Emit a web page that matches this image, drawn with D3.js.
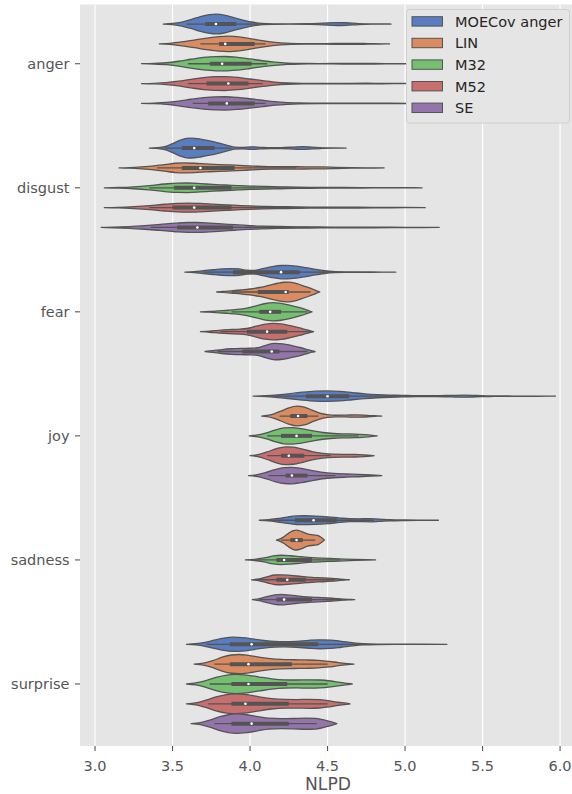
<!DOCTYPE html>
<html>
<head>
<meta charset="utf-8">
<script src="https://cdn.jsdelivr.net/npm/d3@7"></script>
<style>
  html, body { margin: 0; padding: 0; background: #ffffff; }
  svg { display: block; font-family: "DejaVu Sans", sans-serif; }
</style>
</head>
<body>
<svg id="chart" width="572" height="794"></svg>
<script>
// Emotion categories (y axis) and models (hue)
const categories = ["anger", "disgust", "fear", "joy", "sadness", "surprise"];
const models = ["MOECov anger", "LIN", "M32", "M52", "SE"];
const palette = ["#4878d0", "#ee854a", "#6acc64", "#d65f5f", "#956cb4"];
const xTicks = [3.0, 3.5, 4.0, 4.5, 5.0, 5.5, 6.0];
const xLabel = "NLPD";

// Density profiles per model: [NLPD, relative half-width]
const angerDensity = [
  [[3.44,0],[3.50,0.06],[3.56,0.2],[3.62,0.45],[3.68,0.75],[3.74,0.95],[3.78,1.0],[3.84,0.88],[3.90,0.62],[3.96,0.38],[4.02,0.18],[4.08,0.06],[4.15,0.02],[4.25,0.015],[4.38,0.03],[4.47,0.09],[4.56,0.15],[4.62,0.13],[4.70,0.05],[4.78,0.015],[4.91,0]],
  [[3.415,0],[3.48,0.06],[3.56,0.2],[3.64,0.38],[3.72,0.58],[3.80,0.74],[3.86,0.78],[3.94,0.68],[4.02,0.48],[4.10,0.28],[4.18,0.13],[4.26,0.06],[4.35,0.03],[4.48,0.03],[4.60,0.05],[4.68,0.06],[4.76,0.035],[4.84,0.01],[4.90,0]],
  [[3.30,0],[3.38,0.03],[3.46,0.1],[3.54,0.25],[3.62,0.45],[3.70,0.63],[3.78,0.72],[3.84,0.73],[3.92,0.64],[4.00,0.48],[4.08,0.3],[4.16,0.16],[4.24,0.07],[4.32,0.03],[4.45,0.02],[4.60,0.03],[4.70,0.04],[4.80,0.03],[4.95,0.01],[5.15,0]],
  [[3.30,0],[3.38,0.03],[3.46,0.1],[3.54,0.24],[3.62,0.43],[3.70,0.6],[3.78,0.69],[3.84,0.7],[3.92,0.62],[4.00,0.46],[4.08,0.29],[4.16,0.15],[4.24,0.07],[4.34,0.03],[4.50,0.02],[4.65,0.03],[4.75,0.035],[4.85,0.02],[5.00,0.005],[5.15,0]],
  [[3.30,0],[3.38,0.03],[3.46,0.1],[3.54,0.24],[3.62,0.42],[3.70,0.58],[3.78,0.66],[3.84,0.67],[3.92,0.6],[4.00,0.47],[4.08,0.32],[4.16,0.18],[4.24,0.09],[4.32,0.04],[4.45,0.02],[4.60,0.02],[4.75,0.025],[4.90,0.015],[5.15,0]]
];
const disgustDensity = [
  [[3.35,0],[3.40,0.04],[3.45,0.15],[3.50,0.45],[3.55,0.8],[3.59,0.98],[3.62,1.0],[3.68,0.9],[3.74,0.72],[3.80,0.5],[3.86,0.25],[3.90,0.1],[3.95,0.07],[4.01,0.13],[4.07,0.08],[4.13,0.04],[4.20,0.05],[4.28,0.1],[4.34,0.14],[4.40,0.09],[4.47,0.03],[4.55,0.01],[4.62,0]],
  [[3.155,0],[3.22,0.03],[3.30,0.1],[3.38,0.2],[3.45,0.33],[3.52,0.47],[3.57,0.5],[3.64,0.47],[3.72,0.4],[3.80,0.34],[3.88,0.3],[3.96,0.24],[4.04,0.17],[4.12,0.13],[4.20,0.12],[4.30,0.12],[4.40,0.1],[4.47,0.1],[4.55,0.06],[4.65,0.03],[4.75,0.015],[4.865,0]],
  [[3.06,0],[3.15,0.03],[3.25,0.1],[3.35,0.22],[3.45,0.38],[3.53,0.47],[3.60,0.48],[3.68,0.42],[3.76,0.34],[3.84,0.28],[3.92,0.22],[4.00,0.17],[4.10,0.13],[4.20,0.1],[4.30,0.06],[4.45,0.04],[4.60,0.03],[4.80,0.02],[5.00,0.01],[5.11,0]],
  [[3.06,0],[3.15,0.03],[3.25,0.1],[3.35,0.2],[3.45,0.34],[3.53,0.43],[3.60,0.46],[3.68,0.42],[3.76,0.35],[3.84,0.28],[3.92,0.22],[4.00,0.17],[4.10,0.13],[4.20,0.1],[4.30,0.07],[4.45,0.05],[4.60,0.04],[4.80,0.03],[5.00,0.01],[5.13,0]],
  [[3.04,0],[3.12,0.03],[3.22,0.09],[3.32,0.18],[3.42,0.3],[3.52,0.43],[3.60,0.5],[3.66,0.5],[3.74,0.44],[3.82,0.36],[3.90,0.28],[3.98,0.2],[4.08,0.14],[4.18,0.1],[4.30,0.07],[4.45,0.05],[4.60,0.04],[4.80,0.03],[5.00,0.015],[5.22,0]]
];
const fearDensity = [
  [[3.58,0],[3.64,0.05],[3.70,0.15],[3.76,0.24],[3.82,0.32],[3.88,0.36],[3.93,0.32],[3.98,0.2],[4.02,0.18],[4.08,0.35],[4.14,0.55],[4.20,0.67],[4.24,0.68],[4.30,0.6],[4.36,0.45],[4.42,0.28],[4.48,0.14],[4.55,0.06],[4.62,0.03],[4.72,0.015],[4.85,0.008],[4.94,0]],
  [[3.785,0],[3.83,0.05],[3.88,0.12],[3.94,0.2],[4.00,0.3],[4.06,0.45],[4.12,0.66],[4.18,0.88],[4.22,0.98],[4.25,1.0],[4.29,0.9],[4.33,0.7],[4.37,0.48],[4.41,0.25],[4.43,0.12],[4.45,0]],
  [[3.68,0],[3.74,0.04],[3.80,0.1],[3.86,0.16],[3.92,0.24],[3.98,0.38],[4.04,0.6],[4.10,0.84],[4.15,0.92],[4.20,0.85],[4.26,0.66],[4.32,0.42],[4.36,0.22],[4.38,0.1],[4.40,0]],
  [[3.68,0],[3.74,0.06],[3.80,0.14],[3.86,0.2],[3.92,0.24],[3.98,0.32],[4.04,0.55],[4.10,0.76],[4.15,0.83],[4.20,0.78],[4.26,0.6],[4.32,0.38],[4.36,0.2],[4.39,0.08],[4.41,0]],
  [[3.71,0],[3.76,0.08],[3.82,0.2],[3.88,0.28],[3.94,0.32],[4.00,0.33],[4.05,0.38],[4.10,0.62],[4.16,0.83],[4.21,0.78],[4.27,0.6],[4.33,0.38],[4.37,0.2],[4.40,0.07],[4.42,0]]
];
const joyDensity = [
  [[4.02,0],[4.10,0.05],[4.18,0.14],[4.26,0.26],[4.34,0.4],[4.42,0.5],[4.50,0.53],[4.58,0.48],[4.66,0.36],[4.74,0.24],[4.82,0.16],[4.90,0.11],[4.98,0.08],[5.08,0.05],[5.20,0.05],[5.30,0.08],[5.38,0.1],[5.46,0.07],[5.55,0.03],[5.70,0.015],[5.85,0.008],[5.97,0]],
  [[4.075,0],[4.11,0.06],[4.15,0.2],[4.20,0.5],[4.25,0.82],[4.30,1.0],[4.35,0.9],[4.40,0.6],[4.45,0.3],[4.50,0.14],[4.55,0.08],[4.62,0.09],[4.68,0.12],[4.73,0.1],[4.78,0.05],[4.82,0.02],[4.85,0]],
  [[3.995,0],[4.04,0.08],[4.10,0.28],[4.16,0.58],[4.22,0.8],[4.27,0.83],[4.33,0.72],[4.40,0.52],[4.47,0.34],[4.54,0.24],[4.61,0.2],[4.68,0.18],[4.74,0.12],[4.79,0.05],[4.82,0]],
  [[4.00,0],[4.05,0.1],[4.11,0.38],[4.17,0.72],[4.23,0.9],[4.28,0.86],[4.34,0.66],[4.40,0.42],[4.47,0.24],[4.54,0.16],[4.61,0.14],[4.68,0.13],[4.74,0.08],[4.78,0.03],[4.80,0]],
  [[3.99,0],[4.04,0.08],[4.10,0.3],[4.16,0.6],[4.22,0.8],[4.27,0.83],[4.33,0.72],[4.40,0.5],[4.47,0.32],[4.54,0.22],[4.62,0.16],[4.70,0.12],[4.78,0.06],[4.83,0.02],[4.85,0]]
];
const sadnessDensity = [
  [[4.06,0],[4.12,0.06],[4.18,0.18],[4.24,0.32],[4.30,0.43],[4.35,0.45],[4.42,0.42],[4.50,0.34],[4.58,0.22],[4.64,0.15],[4.70,0.14],[4.77,0.16],[4.83,0.12],[4.90,0.06],[5.00,0.025],[5.10,0.01],[5.215,0]],
  [[4.17,0],[4.19,0.1],[4.22,0.35],[4.25,0.7],[4.28,0.95],[4.30,1.0],[4.33,0.88],[4.37,0.62],[4.41,0.52],[4.44,0.45],[4.46,0.25],[4.48,0]],
  [[3.97,0],[4.03,0.06],[4.09,0.2],[4.15,0.4],[4.20,0.47],[4.26,0.42],[4.33,0.32],[4.40,0.23],[4.47,0.18],[4.54,0.14],[4.61,0.09],[4.68,0.05],[4.75,0.02],[4.81,0]],
  [[4.01,0],[4.06,0.1],[4.11,0.3],[4.16,0.48],[4.20,0.5],[4.26,0.44],[4.33,0.34],[4.40,0.25],[4.47,0.2],[4.53,0.14],[4.58,0.07],[4.62,0.02],[4.64,0]],
  [[4.015,0],[4.06,0.1],[4.11,0.3],[4.16,0.48],[4.20,0.53],[4.26,0.45],[4.33,0.33],[4.40,0.25],[4.47,0.2],[4.54,0.13],[4.60,0.06],[4.65,0.02],[4.675,0]]
];
const surpriseDensity = [
  [[3.59,0],[3.65,0.06],[3.71,0.2],[3.77,0.42],[3.83,0.62],[3.89,0.72],[3.95,0.68],[4.02,0.54],[4.09,0.38],[4.16,0.28],[4.22,0.26],[4.30,0.3],[4.38,0.4],[4.45,0.45],[4.52,0.42],[4.59,0.3],[4.66,0.16],[4.73,0.06],[4.82,0.025],[4.95,0.015],[5.10,0.01],[5.27,0]],
  [[3.64,0],[3.70,0.1],[3.76,0.35],[3.82,0.7],[3.88,0.92],[3.93,0.97],[3.99,0.88],[4.06,0.7],[4.13,0.55],[4.20,0.47],[4.28,0.44],[4.36,0.42],[4.44,0.38],[4.51,0.28],[4.57,0.16],[4.63,0.06],[4.67,0]],
  [[3.59,0],[3.65,0.1],[3.71,0.32],[3.78,0.66],[3.85,0.9],[3.91,0.97],[3.98,0.9],[4.06,0.7],[4.14,0.52],[4.22,0.42],[4.30,0.4],[4.38,0.42],[4.45,0.4],[4.52,0.3],[4.58,0.16],[4.63,0.06],[4.66,0]],
  [[3.59,0],[3.65,0.1],[3.71,0.34],[3.78,0.7],[3.85,0.93],[3.91,1.0],[3.98,0.92],[4.06,0.7],[4.14,0.52],[4.22,0.44],[4.30,0.43],[4.38,0.45],[4.45,0.42],[4.51,0.3],[4.57,0.16],[4.62,0.06],[4.645,0]],
  [[3.62,0],[3.68,0.1],[3.74,0.35],[3.80,0.68],[3.86,0.9],[3.91,0.98],[3.98,0.9],[4.05,0.72],[4.12,0.55],[4.20,0.5],[4.28,0.52],[4.36,0.56],[4.42,0.54],[4.47,0.4],[4.52,0.2],[4.56,0]]
];

// Box summaries per model: [lower whisker, Q1, median, Q3, upper whisker]
const angerBox    = [[3.59,3.71,3.78,3.91,4.10],[3.68,3.80,3.84,4.03,4.10],[3.60,3.74,3.82,4.01,4.11],[3.60,3.72,3.86,3.99,4.08],[3.63,3.73,3.85,4.03,4.10]];
const disgustBox  = [[3.45,3.56,3.64,3.77,3.88],[3.40,3.56,3.68,3.90,4.30],[3.35,3.51,3.64,3.88,4.35],[3.35,3.50,3.64,3.88,4.35],[3.36,3.53,3.66,3.89,4.38]];
const fearBox     = [[3.70,3.89,4.20,4.32,4.60],[3.88,4.05,4.23,4.25,4.39],[3.88,4.06,4.13,4.20,4.37],[3.81,3.98,4.11,4.24,4.39],[3.79,3.95,4.14,4.19,4.37]];
const joyBox      = [[4.10,4.36,4.50,4.64,4.98],[4.19,4.26,4.31,4.37,4.44],[4.11,4.20,4.30,4.40,4.70],[4.11,4.20,4.25,4.35,4.52],[4.12,4.23,4.27,4.37,4.55]];
const sadnessBox  = [[4.12,4.29,4.41,4.56,4.80],[4.20,4.26,4.30,4.34,4.42],[4.04,4.17,4.22,4.40,4.58],[4.05,4.17,4.24,4.36,4.55],[4.06,4.17,4.22,4.40,4.60]];
const surpriseBox = [[3.72,3.87,4.01,4.44,4.73],[3.77,3.87,3.99,4.27,4.50],[3.74,3.88,3.99,4.24,4.50],[3.73,3.88,3.97,4.25,4.50],[3.77,3.88,4.01,4.25,4.43]];

const densityByCategory = {anger: angerDensity, disgust: disgustDensity, fear: fearDensity, joy: joyDensity, sadness: sadnessDensity, surprise: surpriseDensity};
const boxByCategory = {anger: angerBox, disgust: disgustBox, fear: fearBox, joy: joyBox, sadness: sadnessBox, surprise: surpriseBox};

// Layout
const plot = {left: 80, right: 572, top: 4.5, bottom: 746};
const svg = d3.select("#chart");

// seaborn-style desaturation of the fill colours
const fills = palette.map(c => { const h = d3.hsl(c); h.s *= 0.75; return h.formatHex(); });
const edge = "#545454";

const x = d3.scaleLinear().domain([2.903, 6.077]).range([plot.left, plot.right]);
const y = d3.scaleBand().domain(categories).range([1.7, 746]);
const hue = d3.scaleBand().domain(models).range([-0.4 * y.bandwidth(), 0.4 * y.bandwidth()]);
const maxHalf = hue.bandwidth() / 2;

// Panel background and vertical grid
svg.append("rect").attr("x", plot.left).attr("y", plot.top)
  .attr("width", plot.right - plot.left).attr("height", plot.bottom - plot.top)
  .attr("fill", "#e5e5e5");

svg.append("g").selectAll("line").data(xTicks).join("line")
  .attr("x1", d => x(d)).attr("x2", d => x(d))
  .attr("y1", plot.top).attr("y2", plot.bottom)
  .attr("stroke", "#ffffff").attr("stroke-width", 1.2);

// Violins
const violins = svg.append("g");
categories.forEach(cat => {
  const cyCat = y(cat) + y.bandwidth() / 2;
  models.forEach((m, i) => {
    const cy = cyCat + hue(m) + hue.bandwidth() / 2;
    const prof = densityByCategory[cat][i];
    const area = d3.area()
      .x(d => x(d[0]))
      .y0(d => cy - d[1] * maxHalf)
      .y1(d => cy + d[1] * maxHalf)
      .curve(d3.curveMonotoneX);
    violins.append("path").attr("d", area(prof))
      .attr("fill", fills[i]).attr("stroke", edge).attr("stroke-width", 1.3)
      .attr("stroke-linejoin", "round");

    const [wl, q1, med, q3, wh] = boxByCategory[cat][i];
    violins.append("line")
      .attr("x1", x(wl)).attr("x2", x(wh)).attr("y1", cy).attr("y2", cy)
      .attr("stroke", edge).attr("stroke-width", 1.3);
    violins.append("line")
      .attr("x1", x(q1)).attr("x2", x(q3)).attr("y1", cy).attr("y2", cy)
      .attr("stroke", edge).attr("stroke-width", 4);
    violins.append("circle")
      .attr("cx", x(med)).attr("cy", cy).attr("r", 1.3)
      .attr("fill", "#ffffff");
  });
});

// X axis
const xAxis = svg.append("g");
xAxis.selectAll("line").data(xTicks).join("line")
  .attr("x1", d => x(d)).attr("x2", d => x(d))
  .attr("y1", plot.bottom).attr("y2", plot.bottom + 5)
  .attr("stroke", "#555555").attr("stroke-width", 1.1);
xAxis.selectAll("text").data(xTicks).join("text")
  .attr("x", d => x(d)).attr("y", 771)
  .attr("text-anchor", "middle").attr("font-size", "14.5px").attr("fill", "#555555")
  .text(d => d.toFixed(1));
svg.append("text").attr("x", 328).attr("y", 789.5)
  .attr("text-anchor", "middle").attr("font-size", "17.2px").attr("fill", "#555555")
  .text(xLabel);

// Y axis
const yAxis = svg.append("g");
yAxis.selectAll("line").data(categories).join("line")
  .attr("x1", plot.left - 5).attr("x2", plot.left)
  .attr("y1", d => y(d) + y.bandwidth() / 2).attr("y2", d => y(d) + y.bandwidth() / 2)
  .attr("stroke", "#555555").attr("stroke-width", 1.1);
yAxis.selectAll("text").data(categories).join("text")
  .attr("x", 69.5).attr("y", d => y(d) + y.bandwidth() / 2 + 5.3)
  .attr("text-anchor", "end").attr("font-size", "14.5px").attr("fill", "#555555")
  .text(d => d);

// Legend
const legend = svg.append("g");
legend.append("rect").attr("x", 406.5).attr("y", 9.5).attr("width", 163).attr("height", 113.5)
  .attr("rx", 3).attr("fill", "#e5e5e5").attr("stroke", "#cfcfcf").attr("stroke-width", 1);
models.forEach((m, i) => {
  const cy = 21.4 + i * 21.6;
  legend.append("rect").attr("x", 412).attr("y", cy - 4.7).attr("width", 30.5).attr("height", 9.4)
    .attr("fill", fills[i]).attr("stroke", edge).attr("stroke-width", 1);
  legend.append("text").attr("x", 455).attr("y", cy + 5.4)
    .attr("font-size", "14.5px").attr("fill", "#262626").text(m);
});
</script>
</body>
</html>
